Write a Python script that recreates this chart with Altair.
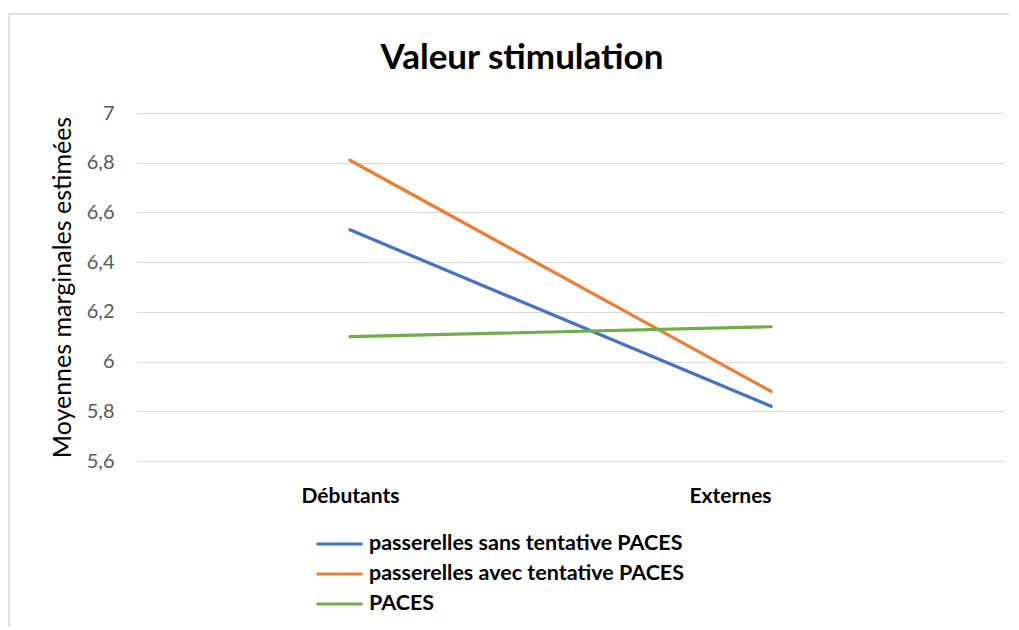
import altair as alt
import pandas as pd

chart_title = "Valeur stimulation"
categories = ["Débutants", "Externes"]
series_names = [
    "passerelles sans tentative PACES",
    "passerelles avec tentative PACES",
    "PACES",
]
values_sans = [6.53, 5.82]
values_avec = [6.81, 5.88]
values_paces = [6.10, 6.14]
y_ticks = [5.6, 5.8, 6.0, 6.2, 6.4, 6.6, 6.8, 7.0]
colors = ["#4472C4", "#ED7D31", "#70AD47"]

rows = []
for name, vals in zip(series_names, [values_sans, values_avec, values_paces]):
    for i, (cat, v) in enumerate(zip(categories, vals)):
        rows.append({"serie": name, "idx": i, "categorie": cat, "valeur": v})
df = pd.DataFrame(rows)

FONT = "Lato"

label_expr = "datum.value == 0 ? '" + categories[0] + "' : datum.value == 1 ? '" + categories[1] + "' : ''"

lines = alt.Chart(df).mark_line(strokeWidth=3.2, strokeCap="round").encode(
    x=alt.X(
        "idx:Q",
        scale=alt.Scale(domain=[-0.508, 1.553], nice=False, zero=False),
        axis=alt.Axis(
            values=[0, 1],
            labelExpr=label_expr,
            title=None,
            grid=False,
            domain=False,
            ticks=False,
            labelFont=FONT,
            labelFontWeight="bold",
            labelFontSize=21,
            labelColor="#000000",
            labelPadding=24,
            labelAlign={"condition": {"test": "datum.value == 1", "value": "right"}, "value": "center"},
        ),
    ),
    y=alt.Y(
        "valeur:Q",
        scale=alt.Scale(domain=[5.6, 7.0], nice=False, zero=False),
        axis=alt.Axis(
            values=y_ticks,
            format=".1~f",
            labelExpr="replace(datum.label, '.', ',')",
            title="Moyennes marginales estimées",
            titleFont=FONT,
            titleFontSize=25,
            titleFontWeight="normal",
            titleColor="#000000",
            titlePadding=11,
            labelFont=FONT,
            labelFontSize=20,
            labelColor="#595959",
            labelPadding=22,
            domain=False,
            ticks=False,
            grid=True,
            gridColor="#d9d9d9",
            gridWidth=1,
        ),
    ),
    color=alt.Color(
        "serie:N",
        scale=alt.Scale(domain=series_names, range=colors),
        sort=series_names,
        legend=alt.Legend(
            title=None,
            orient="none",
            legendX=190.5,
            legendY=418,
            symbolType="M-2,0H2",
            symbolSize=529,
            symbolStrokeWidth=3,
            labelFont=FONT,
            labelFontWeight="bold",
            labelFontSize=21.5,
            labelColor="#000000",
            labelOffset=16.5,
            rowPadding=6,
            labelLimit=600,
        ),
    ),
)

frame = alt.Chart(pd.DataFrame({"k": [0]})).mark_rect(
    fill="transparent", stroke="#d9d9d9", strokeWidth=1.5
).encode(
    x=alt.value(-127),
    x2=alt.value(900),
    y=alt.value(-99),
    y2=alt.value(600),
)

title_layer = alt.Chart(pd.DataFrame({"t": [chart_title]})).mark_text(
    font=FONT, fontSize=35, fontWeight="bold", color="#000000",
    align="center", baseline="alphabetic",
).encode(
    text="t:N",
    x=alt.value(386),
    y=alt.value(-44),
)

chart = alt.layer(frame, lines, title_layer).properties(
    width=868,
    height=348,
    autosize=alt.AutoSizeParams(type="none"),
    padding={"left": 128, "top": 105, "right": 5, "bottom": 166},
).configure_view(strokeWidth=0)

chart.save("out.html", embed_options={"renderer": "svg", "actions": False})
